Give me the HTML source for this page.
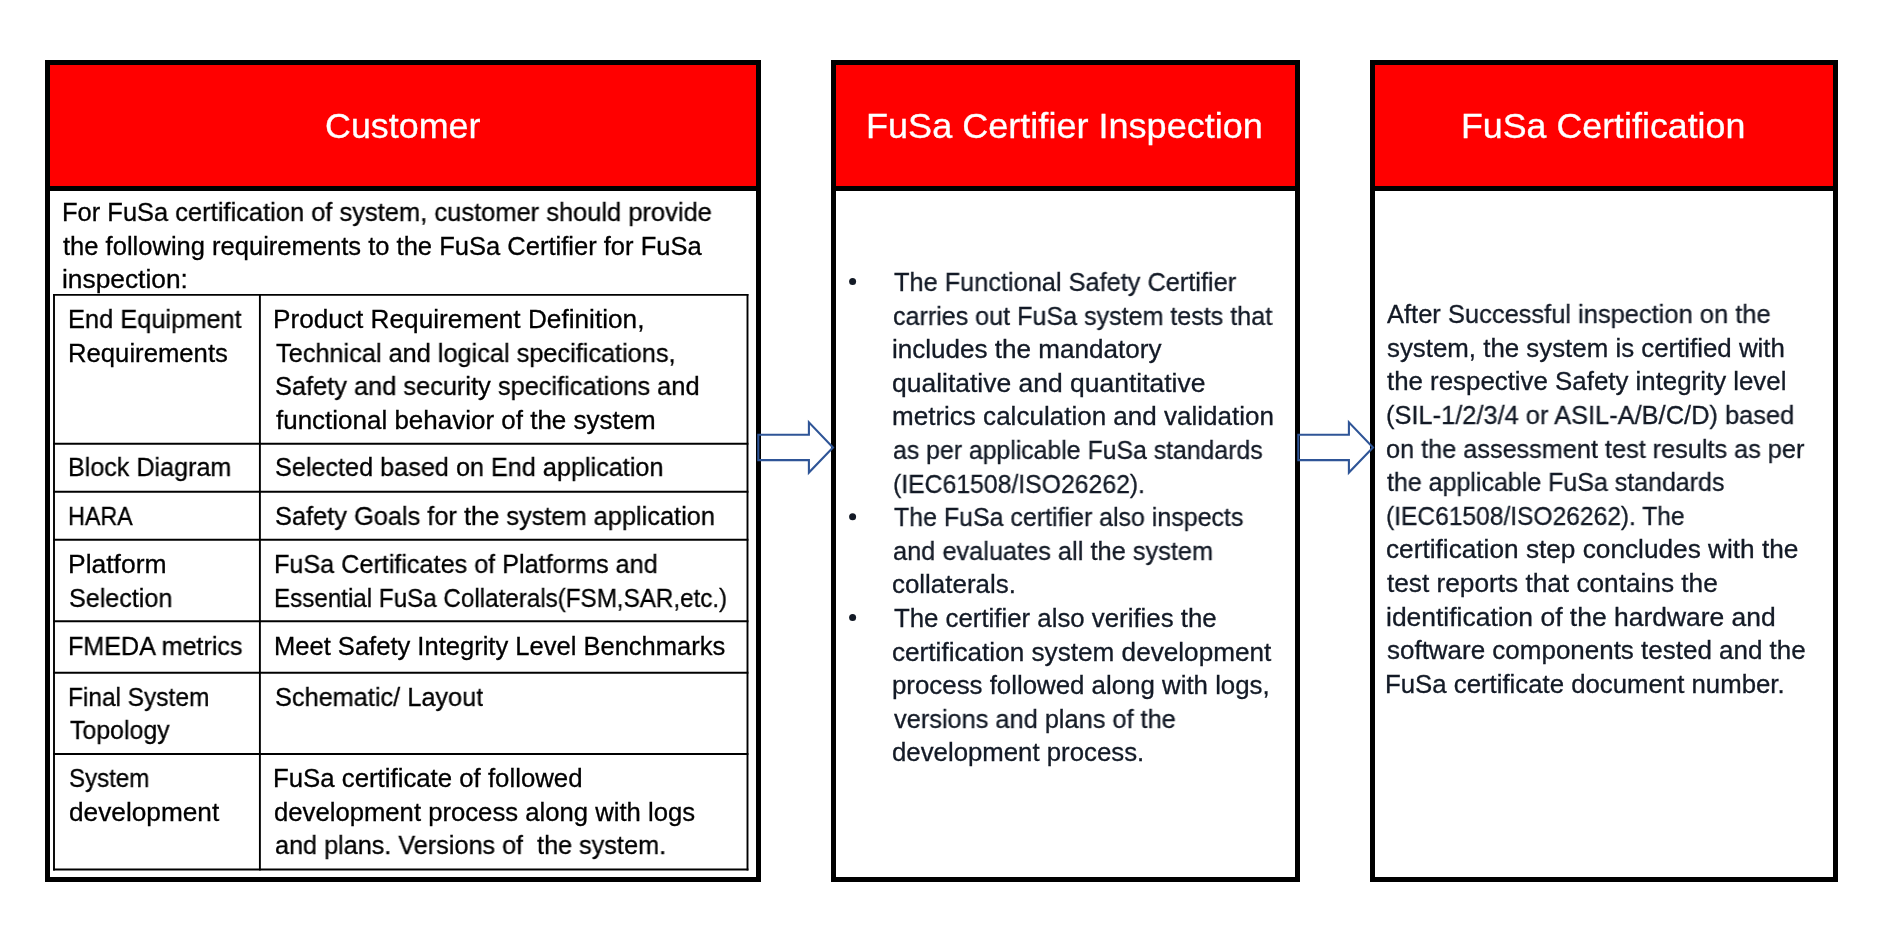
<!DOCTYPE html>
<html><head><meta charset="utf-8"><title>FuSa Certification Flow</title>
<style>
html,body{margin:0;padding:0;background:#fff;width:1900px;height:948px;overflow:hidden}
svg{position:absolute;left:0;top:0}
.t{position:absolute;font-family:"Liberation Sans",sans-serif;line-height:0;white-space:pre;transform-origin:0 0;will-change:transform;-webkit-text-stroke:0.3px currentColor}
</style></head><body>
<svg width="1900" height="948" viewBox="0 0 1900 948">
<rect x="45" y="60" width="716" height="822" fill="#000"/><rect x="50" y="65" width="706" height="121" fill="#FF0000"/><rect x="50" y="191" width="706" height="686" fill="#fff"/>
<rect x="831" y="60" width="469" height="822" fill="#000"/><rect x="836" y="65" width="459" height="121" fill="#FF0000"/><rect x="836" y="191" width="459" height="686" fill="#fff"/>
<rect x="1370" y="60" width="468" height="822" fill="#000"/><rect x="1375" y="65" width="458" height="121" fill="#FF0000"/><rect x="1375" y="191" width="458" height="686" fill="#fff"/>
<line x1="53.1" y1="294.85" x2="748.4" y2="294.85" stroke="#000" stroke-width="1.9"/><line x1="53.1" y1="443.75" x2="748.4" y2="443.75" stroke="#000" stroke-width="1.9"/><line x1="53.1" y1="491.75" x2="748.4" y2="491.75" stroke="#000" stroke-width="1.9"/><line x1="53.1" y1="539.75" x2="748.4" y2="539.75" stroke="#000" stroke-width="1.9"/><line x1="53.1" y1="621.2" x2="748.4" y2="621.2" stroke="#000" stroke-width="1.9"/><line x1="53.1" y1="672.7" x2="748.4" y2="672.7" stroke="#000" stroke-width="1.9"/><line x1="53.1" y1="754.0" x2="748.4" y2="754.0" stroke="#000" stroke-width="1.9"/><line x1="53.1" y1="869.5" x2="748.4" y2="869.5" stroke="#000" stroke-width="1.9"/><line x1="54.0" y1="293.9" x2="54.0" y2="870.45" stroke="#000" stroke-width="1.9"/><line x1="259.9" y1="293.9" x2="259.9" y2="870.45" stroke="#000" stroke-width="1.9"/><line x1="747.5" y1="293.9" x2="747.5" y2="870.45" stroke="#000" stroke-width="1.9"/>
<circle cx="852.6" cy="281.5" r="3.5" fill="#131a26"/><circle cx="852.6" cy="516.7" r="3.5" fill="#131a26"/><circle cx="852.6" cy="617.5" r="3.5" fill="#131a26"/>
</svg>
<div class="t" style="left:324.78px;top:126px;font-size:35px;color:#fff;transform:scaleX(1.0242)">Customer</div>
<div class="t" style="left:866.44px;top:126px;font-size:35px;color:#fff;transform:scaleX(1.0304)">FuSa Certifier Inspection</div>
<div class="t" style="left:1461.06px;top:126px;font-size:35px;color:#fff;transform:scaleX(1.0222)">FuSa Certification</div>
<div class="t" style="left:62.00px;top:212px;font-size:25.5px;color:#000;transform:scaleX(0.9990)">For FuSa certification of system, customer should provide</div>
<div class="t" style="left:63.30px;top:246px;font-size:25.5px;color:#000;transform:scaleX(1.0014)">the following requirements to the FuSa Certifier for FuSa</div>
<div class="t" style="left:62.27px;top:279px;font-size:25.5px;color:#000;transform:scaleX(1.0326)">inspection:</div>
<div class="t" style="left:67.81px;top:319px;font-size:25.5px;color:#000;transform:scaleX(0.9960)">End Equipment</div>
<div class="t" style="left:67.79px;top:353px;font-size:25.5px;color:#000;transform:scaleX(1.0071)">Requirements</div>
<div class="t" style="left:67.83px;top:467px;font-size:25.5px;color:#000;transform:scaleX(0.9849)">Block Diagram</div>
<div class="t" style="left:67.97px;top:516px;font-size:25.5px;color:#000;transform:scaleX(0.9137)">HARA</div>
<div class="t" style="left:67.72px;top:564px;font-size:25.5px;color:#000;transform:scaleX(1.0382)">Platform</div>
<div class="t" style="left:68.81px;top:598px;font-size:25.5px;color:#000;transform:scaleX(0.9852)">Selection</div>
<div class="t" style="left:67.83px;top:646px;font-size:25.5px;color:#000;transform:scaleX(0.9855)">FMEDA metrics</div>
<div class="t" style="left:67.88px;top:697px;font-size:25.5px;color:#000;transform:scaleX(0.9589)">Final System</div>
<div class="t" style="left:69.80px;top:730px;font-size:25.5px;color:#000;transform:scaleX(0.9763)">Topology</div>
<div class="t" style="left:68.86px;top:778px;font-size:25.5px;color:#000;transform:scaleX(0.9447)">System</div>
<div class="t" style="left:68.77px;top:812px;font-size:25.5px;color:#000;transform:scaleX(1.0288)">development</div>
<div class="t" style="left:273.44px;top:319px;font-size:25.5px;color:#000;transform:scaleX(1.0278)">Product Requirement Definition,</div>
<div class="t" style="left:275.50px;top:353px;font-size:25.5px;color:#000;transform:scaleX(0.9926)">Technical and logical specifications,</div>
<div class="t" style="left:274.50px;top:386px;font-size:25.5px;color:#000;transform:scaleX(0.9951)">Safety and security specifications and</div>
<div class="t" style="left:275.50px;top:420px;font-size:25.5px;color:#000;transform:scaleX(1.0187)">functional behavior of the system</div>
<div class="t" style="left:274.51px;top:467px;font-size:25.5px;color:#000;transform:scaleX(0.9892)">Selected based on End application</div>
<div class="t" style="left:274.51px;top:516px;font-size:25.5px;color:#000;transform:scaleX(0.9949)">Safety Goals for the system application</div>
<div class="t" style="left:273.52px;top:564px;font-size:25.5px;color:#000;transform:scaleX(0.9879)">FuSa Certificates of Platforms and</div>
<div class="t" style="left:273.60px;top:598px;font-size:25.5px;color:#000;transform:scaleX(0.9488)">Essential FuSa Collaterals(FSM,SAR,etc.)</div>
<div class="t" style="left:273.50px;top:646px;font-size:25.5px;color:#000;transform:scaleX(1.0014)">Meet Safety Integrity Level Benchmarks</div>
<div class="t" style="left:274.51px;top:697px;font-size:25.5px;color:#000;transform:scaleX(0.9928)">Schematic/ Layout</div>
<div class="t" style="left:273.48px;top:778px;font-size:25.5px;color:#000;transform:scaleX(1.0110)">FuSa certificate of followed</div>
<div class="t" style="left:274.49px;top:812px;font-size:25.5px;color:#000;transform:scaleX(1.0069)">development process along with logs</div>
<div class="t" style="left:274.51px;top:845px;font-size:25.5px;color:#000;transform:scaleX(0.9888)">and plans. Versions of  the system.</div>
<div class="t" style="left:893.50px;top:282px;font-size:25.5px;color:#131a26;transform:scaleX(0.9933)">The Functional Safety Certifier</div>
<div class="t" style="left:892.52px;top:316px;font-size:25.5px;color:#131a26;transform:scaleX(0.9834)">carries out FuSa system tests that</div>
<div class="t" style="left:892.48px;top:349px;font-size:25.5px;color:#131a26;transform:scaleX(1.0220)">includes the mandatory</div>
<div class="t" style="left:892.46px;top:383px;font-size:25.5px;color:#131a26;transform:scaleX(1.0380)">qualitative and quantitative</div>
<div class="t" style="left:892.48px;top:416px;font-size:25.5px;color:#131a26;transform:scaleX(1.0209)">metrics calculation and validation</div>
<div class="t" style="left:892.53px;top:450px;font-size:25.5px;color:#131a26;transform:scaleX(0.9729)">as per applicable FuSa standards</div>
<div class="t" style="left:892.53px;top:484px;font-size:25.5px;color:#131a26;transform:scaleX(0.9714)">(IEC61508/ISO26262).</div>
<div class="t" style="left:893.50px;top:517px;font-size:25.5px;color:#131a26;transform:scaleX(0.9781)">The FuSa certifier also inspects</div>
<div class="t" style="left:892.51px;top:551px;font-size:25.5px;color:#131a26;transform:scaleX(0.9949)">and evaluates all the system</div>
<div class="t" style="left:892.48px;top:584px;font-size:25.5px;color:#131a26;transform:scaleX(1.0160)">collaterals.</div>
<div class="t" style="left:893.50px;top:618px;font-size:25.5px;color:#131a26;transform:scaleX(1.0116)">The certifier also verifies the</div>
<div class="t" style="left:892.47px;top:652px;font-size:25.5px;color:#131a26;transform:scaleX(1.0254)">certification system development</div>
<div class="t" style="left:892.49px;top:685px;font-size:25.5px;color:#131a26;transform:scaleX(1.0132)">process followed along with logs,</div>
<div class="t" style="left:893.50px;top:719px;font-size:25.5px;color:#131a26;transform:scaleX(0.9939)">versions and plans of the</div>
<div class="t" style="left:892.49px;top:752px;font-size:25.5px;color:#131a26;transform:scaleX(1.0110)">development process.</div>
<div class="t" style="left:1387.00px;top:314px;font-size:25.5px;color:#131a26;transform:scaleX(0.9986)">After Successful inspection on the</div>
<div class="t" style="left:1387.00px;top:348px;font-size:25.5px;color:#131a26;transform:scaleX(1.0137)">system, the system is certified with</div>
<div class="t" style="left:1387.00px;top:381px;font-size:25.5px;color:#131a26;transform:scaleX(1.0136)">the respective Safety integrity level</div>
<div class="t" style="left:1386.00px;top:415px;font-size:25.5px;color:#131a26;transform:scaleX(0.9965)">(SIL-1/2/3/4 or ASIL-A/B/C/D) based</div>
<div class="t" style="left:1386.01px;top:449px;font-size:25.5px;color:#131a26;transform:scaleX(0.9903)">on the assessment test results as per</div>
<div class="t" style="left:1387.00px;top:482px;font-size:25.5px;color:#131a26;transform:scaleX(0.9796)">the applicable FuSa standards</div>
<div class="t" style="left:1386.04px;top:516px;font-size:25.5px;color:#131a26;transform:scaleX(0.9633)">(IEC61508/ISO26262). The</div>
<div class="t" style="left:1385.97px;top:549px;font-size:25.5px;color:#131a26;transform:scaleX(1.0281)">certification step concludes with the</div>
<div class="t" style="left:1387.00px;top:583px;font-size:25.5px;color:#131a26;transform:scaleX(1.0280)">test reports that contains the</div>
<div class="t" style="left:1385.96px;top:617px;font-size:25.5px;color:#131a26;transform:scaleX(1.0375)">identification of the hardware and</div>
<div class="t" style="left:1387.00px;top:650px;font-size:25.5px;color:#131a26;transform:scaleX(1.0185)">software components tested and the</div>
<div class="t" style="left:1384.98px;top:684px;font-size:25.5px;color:#131a26;transform:scaleX(1.0106)">FuSa certificate document number.</div>
<svg width="1900" height="948" viewBox="0 0 1900 948" style="pointer-events:none">
<polygon points="758.3,434.7 808.9,434.7 808.9,422.3 833.0,447.4 808.9,472.6 808.9,460.1 758.3,460.1" fill="none" stroke="#2F5597" stroke-width="2.1" stroke-miterlimit="10"/>
<polygon points="1298.3,434.7 1348.9,434.7 1348.9,422.3 1373.0,447.4 1348.9,472.6 1348.9,460.1 1298.3,460.1" fill="none" stroke="#2F5597" stroke-width="2.1" stroke-miterlimit="10"/>
</svg>
</body></html>
